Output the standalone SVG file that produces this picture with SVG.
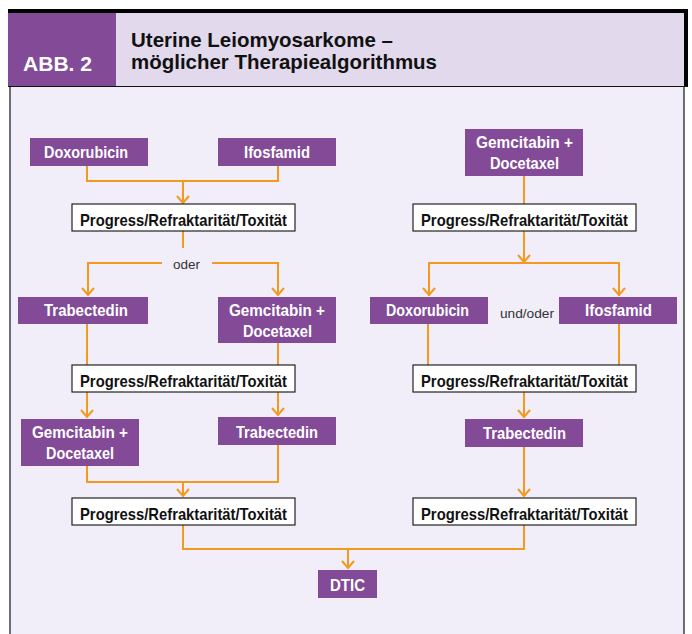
<svg xmlns="http://www.w3.org/2000/svg" width="692" height="634" viewBox="0 0 692 634">
<style>
.drug{fill:#834a98}
.dt{font-family:"Liberation Sans",Arial,sans-serif;font-weight:bold;font-size:16.5px;fill:#ffffff;text-anchor:start}
.pb{fill:#ffffff;stroke:#222222;stroke-width:1.2}
.pt{font-family:"Liberation Sans",Arial,sans-serif;font-weight:bold;font-size:17px;fill:#111111}
.lbl{font-family:"Liberation Sans",Arial,sans-serif;font-size:13.5px;fill:#333333}
.c{fill:none;stroke:#f39a1e;stroke-width:2}
.hd{font-family:"Liberation Sans",Arial,sans-serif;font-weight:bold;fill:#111111;font-size:21px}
</style>
<defs>
<marker id="ah" markerUnits="userSpaceOnUse" markerWidth="20" markerHeight="20" viewBox="-10 -10 20 20" refX="0" refY="0" orient="auto" overflow="visible">
<path d="M-7,-6 L0,0 L-7,6" fill="none" stroke="#f39a1e" stroke-width="2"/>
</marker>
</defs>
<rect x="0" y="0" width="692" height="634" fill="#ffffff"/>
<g id="frame">
<rect x="10" y="86" width="674" height="560" fill="#f1eef9" stroke="#111111" stroke-width="1.2"/>
<rect x="116" y="12" width="569" height="74" fill="#e2d9ec"/>
<rect x="8" y="12" width="108" height="74" fill="#834a98"/>
<rect x="8" y="9" width="680" height="4" fill="#000000"/>
<rect x="684" y="9" width="4" height="77" fill="#000000"/>
<line x1="8" y1="86.5" x2="688" y2="86.5" stroke="#111111" stroke-width="1.2"/>
<text x="23" y="71" font-family="'Liberation Sans',Arial,sans-serif" font-weight="bold" font-size="20.5" fill="#ffffff" textLength="69" lengthAdjust="spacingAndGlyphs">ABB. 2</text>
<text class="hd" x="131" y="46.5" textLength="262" lengthAdjust="spacingAndGlyphs">Uterine Leiomyosarkome –</text>
<text class="hd" x="131" y="69" textLength="306" lengthAdjust="spacingAndGlyphs">möglicher Therapiealgorithmus</text>
</g>
<g id="connectors">
<path class="c" d="M87,166 V181 H278 V166"/>
<path class="c" d="M183,181 V203" marker-end="url(#ah)"/>
<path class="c" d="M183,231 V248"/>
<path class="c" d="M162,263 H88 V295" marker-end="url(#ah)"/>
<path class="c" d="M212,263 H278 V295" marker-end="url(#ah)"/>
<path class="c" d="M87,324 V417" marker-end="url(#ah)"/>
<path class="c" d="M278,343 V415" marker-end="url(#ah)"/>
<path class="c" d="M87,466 V482 H278 V445"/>
<path class="c" d="M183,482 V496" marker-end="url(#ah)"/>
<path class="c" d="M183,525 V549 H524 V525"/>
<path class="c" d="M348,549 V568" marker-end="url(#ah)"/>
<path class="c" d="M524,176 V204"/>
<path class="c" d="M524,231 V262" marker-end="url(#ah)"/>
<path class="c" d="M429,296 V263 H619 V296"/>
<path class="c" d="M429,263 V295" marker-end="url(#ah)"/>
<path class="c" d="M619,263 V295" marker-end="url(#ah)"/>
<path class="c" d="M428,324 V365"/>
<path class="c" d="M619,324 V365"/>
<path class="c" d="M524,392 V417" marker-end="url(#ah)"/>
<path class="c" d="M524,447 V496" marker-end="url(#ah)"/>
</g>
<g id="doxorubicin-l"><rect class="drug" x="30" y="138" width="118" height="28"/><text class="dt" x="44" y="158" textLength="84" lengthAdjust="spacingAndGlyphs">Doxorubicin</text></g>
<g id="ifosfamid-l"><rect class="drug" x="218" y="138" width="118" height="28"/><text class="dt" x="244" y="158" textLength="66" lengthAdjust="spacingAndGlyphs">Ifosfamid</text></g>
<g id="progress-l1"><rect class="pb" x="72" y="204" width="223" height="27"/><text class="pt" x="80" y="225.5" textLength="207" lengthAdjust="spacingAndGlyphs">Progress/Refraktarität/Toxität</text></g>
<g id="oder"><text class="lbl" x="173" y="268.5" textLength="27" lengthAdjust="spacingAndGlyphs">oder</text></g>
<g id="trabectedin-l1"><rect class="drug" x="18" y="297" width="130" height="27"/><text class="dt" x="44" y="316" textLength="84" lengthAdjust="spacingAndGlyphs">Trabectedin</text></g>
<g id="gemdoc-l1"><rect class="drug" x="218" y="297" width="118" height="46"/><text class="dt" x="229" y="316" textLength="96" lengthAdjust="spacingAndGlyphs">Gemcitabin +</text><text class="dt" x="243" y="337" textLength="69" lengthAdjust="spacingAndGlyphs">Docetaxel</text></g>
<g id="progress-l2"><rect class="pb" x="72" y="365" width="223" height="27"/><text class="pt" x="80" y="386.5" textLength="207" lengthAdjust="spacingAndGlyphs">Progress/Refraktarität/Toxität</text></g>
<g id="gemdoc-l2"><rect class="drug" x="21" y="419" width="118" height="47"/><text class="dt" x="32" y="438" textLength="96" lengthAdjust="spacingAndGlyphs">Gemcitabin +</text><text class="dt" x="46" y="458.5" textLength="68" lengthAdjust="spacingAndGlyphs">Docetaxel</text></g>
<g id="trabectedin-l2"><rect class="drug" x="218" y="417" width="118" height="28"/><text class="dt" x="236" y="437.5" textLength="82" lengthAdjust="spacingAndGlyphs">Trabectedin</text></g>
<g id="progress-l3"><rect class="pb" x="72" y="498" width="223" height="27"/><text class="pt" x="80" y="519.5" textLength="207" lengthAdjust="spacingAndGlyphs">Progress/Refraktarität/Toxität</text></g>
<g id="gemdoc-r"><rect class="drug" x="465" y="129" width="118" height="47"/><text class="dt" x="476" y="148" textLength="97" lengthAdjust="spacingAndGlyphs">Gemcitabin +</text><text class="dt" x="490" y="168.5" textLength="69" lengthAdjust="spacingAndGlyphs">Docetaxel</text></g>
<g id="progress-r1"><rect class="pb" x="413" y="204" width="223" height="27"/><text class="pt" x="421" y="225.5" textLength="207" lengthAdjust="spacingAndGlyphs">Progress/Refraktarität/Toxität</text></g>
<g id="doxorubicin-r"><rect class="drug" x="370" y="297" width="118" height="27"/><text class="dt" x="386" y="316" textLength="83" lengthAdjust="spacingAndGlyphs">Doxorubicin</text></g>
<g id="undoder"><text class="lbl" x="500" y="318" textLength="54" lengthAdjust="spacingAndGlyphs">und/oder</text></g>
<g id="ifosfamid-r"><rect class="drug" x="559" y="297" width="118" height="27"/><text class="dt" x="585" y="316" textLength="67" lengthAdjust="spacingAndGlyphs">Ifosfamid</text></g>
<g id="progress-r2"><rect class="pb" x="413" y="365" width="223" height="27"/><text class="pt" x="421" y="386.5" textLength="207" lengthAdjust="spacingAndGlyphs">Progress/Refraktarität/Toxität</text></g>
<g id="trabectedin-r"><rect class="drug" x="465" y="419" width="118" height="28"/><text class="dt" x="483" y="439" textLength="83" lengthAdjust="spacingAndGlyphs">Trabectedin</text></g>
<g id="progress-r3"><rect class="pb" x="413" y="498" width="223" height="27"/><text class="pt" x="421" y="519.5" textLength="207" lengthAdjust="spacingAndGlyphs">Progress/Refraktarität/Toxität</text></g>
<g id="dtic"><rect class="drug" x="318" y="570" width="59" height="28"/><text class="dt" x="330" y="590.5" textLength="35" lengthAdjust="spacingAndGlyphs">DTIC</text></g>
</svg>
